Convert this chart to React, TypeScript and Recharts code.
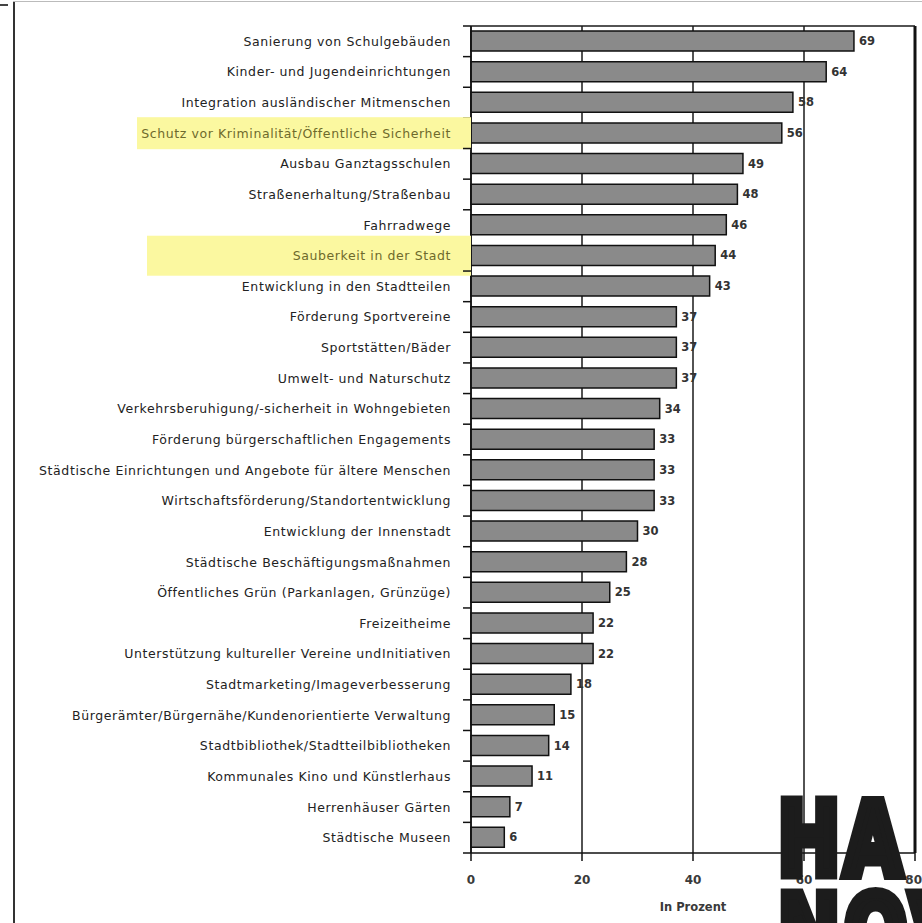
import React from "react";
import {
  BarChart,
  Bar,
  XAxis,
  YAxis,
  CartesianGrid,
  LabelList,
  ReferenceLine,
  Label,
} from "recharts";

const categories: string[] = [
  "Sanierung von Schulgebäuden",
  "Kinder- und Jugendeinrichtungen",
  "Integration ausländischer Mitmenschen",
  "Schutz vor Kriminalität/Öffentliche Sicherheit",
  "Ausbau Ganztagsschulen",
  "Straßenerhaltung/Straßenbau",
  "Fahrradwege",
  "Sauberkeit in der Stadt",
  "Entwicklung in den Stadtteilen",
  "Förderung Sportvereine",
  "Sportstätten/Bäder",
  "Umwelt- und Naturschutz",
  "Verkehrsberuhigung/-sicherheit in Wohngebieten",
  "Förderung bürgerschaftlichen Engagements",
  "Städtische Einrichtungen und Angebote für ältere Menschen",
  "Wirtschaftsförderung/Standortentwicklung",
  "Entwicklung der Innenstadt",
  "Städtische Beschäftigungsmaßnahmen",
  "Öffentliches Grün (Parkanlagen, Grünzüge)",
  "Freizeitheime",
  "Unterstützung kultureller Vereine undInitiativen",
  "Stadtmarketing/Imageverbesserung",
  "Bürgerämter/Bürgernähe/Kundenorientierte Verwaltung",
  "Stadtbibliothek/Stadtteilbibliotheken",
  "Kommunales Kino und Künstlerhaus",
  "Herrenhäuser Gärten",
  "Städtische Museen",
];

const values: number[] = [
  69, 64, 58, 56, 49, 48, 46, 44, 43, 37, 37, 37, 34, 33, 33, 33, 30, 28, 25, 22,
  22, 18, 15, 14, 11, 7, 6,
];

const xTicks: number[] = [0, 20, 40, 60, 80];
const highlighted: string[] = [
  "Schutz vor Kriminalität/Öffentliche Sicherheit",
  "Sauberkeit in der Stadt",
];
const axisTitle = "In Prozent";
const logoLines: string[] = ["HA", "NOV"];

const data = categories.map((name, i) => ({ name, value: values[i] }));

// highlight box styles (left edge, height) per highlighted label
const highlightStyle: Record<string, { left: number; height: number }> = {
  [highlighted[0]]: { left: 137, height: 32 },
  [highlighted[1]]: { left: 147, height: 40 },
};

const FONT = "'DejaVu Sans', Verdana, sans-serif";

const YTick = (props: any) => {
  const { x, y, payload } = props;
  const half = payload && typeof payload.offset === "number" && payload.offset > 0 ? payload.offset : 15.3;
  const axisX = x + 20;
  const hl = highlightStyle[payload.value];
  return (
    <g>
      {hl && (
        <rect
          x={hl.left}
          y={y - hl.height / 2}
          width={axisX - hl.left}
          height={hl.height}
          fill="#fbf8a0"
        />
      )}
      <text
        x={x}
        y={y}
        dy="0.36em"
        textAnchor="end"
        fontFamily={FONT}
        fontSize={12.5}
        letterSpacing={0.6}
        fill={hl ? "#6e6a2c" : "#222"}
      >
        {payload.value}
      </text>
      <line x1={axisX - 8} x2={axisX} y1={y + half} y2={y + half} stroke="#111" strokeWidth={1.5} />
      {payload.index === 0 && (
        <line x1={axisX - 8} x2={axisX} y1={y - half} y2={y - half} stroke="#111" strokeWidth={1.5} />
      )}
    </g>
  );
};

export default function App() {
  return (
    <div
      style={{
        position: "absolute",
        left: 0,
        top: 0,
        width: 922,
        height: 923,
        background: "#fff",
        overflow: "hidden",
      }}
    >
      <div style={{ position: "absolute", left: 13, top: 2, width: 2, height: 921, background: "#333" }} />
      <div style={{ position: "absolute", left: 13, top: 1, width: 909, height: 1, background: "#bbb" }} />
      <div style={{ position: "absolute", left: 0, top: 4, width: 8, height: 2, background: "#444" }} />
      <div style={{ position: "absolute", left: 0, top: 0 }}>
        <BarChart
          width={922}
          height={923}
          data={data}
          layout="vertical"
          margin={{ top: 26, right: 7, bottom: 0, left: 0 }}
          barSize={20}
        >
          <CartesianGrid
            vertical={true}
            horizontal={true}
            horizontalPoints={[26]}
            stroke="#1a1a1a"
            strokeWidth={1.5}
          />
          <XAxis
            type="number"
            domain={[0, 80]}
            ticks={xTicks}
            height={70}
            tickSize={8}
            tickMargin={14}
            axisLine={{ stroke: "#111", strokeWidth: 1.5 }}
            tickLine={{ stroke: "#111", strokeWidth: 1.5 }}
            tick={{ fontFamily: FONT, fontSize: 12, fontWeight: "bold", fill: "#3a3a3a" }}
          >
            <Label
              value={axisTitle}
              position="insideBottom"
              offset={12}
              style={{ fontFamily: FONT, fontSize: 11.5, fontWeight: "bold", fill: "#3a3a3a" }}
            />
          </XAxis>
          <YAxis
            type="category"
            dataKey="name"
            width={471}
            interval={0}
            tickSize={8}
            tickMargin={12}
            tickLine={false}
            axisLine={{ stroke: "#111", strokeWidth: 1.5 }}
            tick={<YTick />}
          />
          <ReferenceLine x={80} stroke="#111" strokeWidth={3} />
          <Bar dataKey="value" fill="#8a8a8a" stroke="#111" strokeWidth={1.5} isAnimationActive={false}>
            <LabelList
              dataKey="value"
              position="right"
              offset={5}
              style={{ fontFamily: FONT, fontSize: 11.5, fontWeight: "bold", fill: "#333" }}
            />
          </Bar>
        </BarChart>
      </div>
      <svg
        width={922}
        height={923}
        style={{ position: "absolute", left: 0, top: 0, pointerEvents: "none" }}
      >
        <g transform="translate(778 874) scale(0.74 1)">
          <text
            x={0}
            y={0}
            fontFamily="'DejaVu Sans', sans-serif"
            fontWeight="bold"
            fontSize={100}
            fill="#1c1c1c"
            stroke="#1c1c1c"
            strokeWidth={11}
            strokeLinejoin="miter"
            letterSpacing={6}
          >
            {logoLines[0]}
          </text>
          <text
            x={0}
            y={93}
            fontFamily="'DejaVu Sans', sans-serif"
            fontWeight="bold"
            fontSize={100}
            fill="#1c1c1c"
            stroke="#1c1c1c"
            strokeWidth={11}
            strokeLinejoin="miter"
            letterSpacing={6}
          >
            {logoLines[1]}
          </text>
        </g>
      </svg>
    </div>
  );
}
